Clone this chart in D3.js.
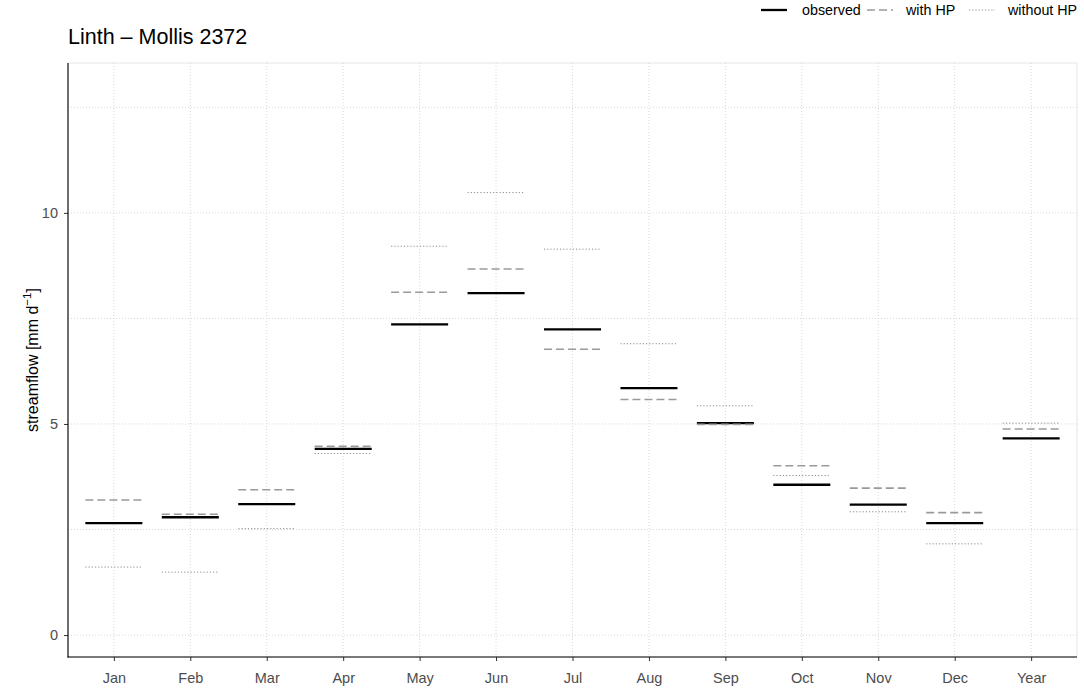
<!DOCTYPE html>
<html>
<head>
<meta charset="utf-8">
<script src="https://cdn.jsdelivr.net/npm/d3@7"></script>
<style>
  html, body { margin: 0; padding: 0; background: #fff; }
  svg { display: block; font-family: "Liberation Sans", Arial, sans-serif; }
</style>
</head>
<body>
<svg id="chart" width="1084" height="691"></svg>
<script>
// Monthly mean streamflow (mm/d): observed vs. simulated with and without hydropower
const categories = ["Jan", "Feb", "Mar", "Apr", "May", "Jun", "Jul", "Aug", "Sep", "Oct", "Nov", "Dec", "Year"];
const observed  = [2.65, 2.79, 3.10, 4.41, 7.36, 8.10, 7.24, 5.85, 5.02, 3.56, 3.09, 2.65, 4.66];
const withHP    = [3.20, 2.86, 3.44, 4.47, 8.12, 8.67, 6.77, 5.58, 4.99, 4.01, 3.48, 2.90, 4.88];
const withoutHP = [1.61, 1.49, 2.52, 4.30, 9.21, 10.48, 9.14, 6.90, 5.43, 3.78, 2.92, 2.16, 5.02];
const yTicks = [0, 5, 10];
const yMinor = [2.5, 7.5, 12.5];
const seriesNames = ["observed", "with HP", "without HP"];

const svg = d3.select("#chart");
const panel = { left: 68, right: 1077, top: 63, bottom: 657 };

const x = d3.scalePoint().domain(categories).range([panel.left, panel.right]).padding(0.6);
const y = d3.scaleLinear().domain([-0.52, 13.55]).range([panel.bottom, panel.top]);
const halfW = x.step() * 0.373;

const styles = {
  "observed":   { stroke: "#000000", width: 2.3, dash: null },
  "with HP":    { stroke: "#9a9a9a", width: 1.6, dash: "8,4" },
  "without HP": { stroke: "#8c8c8c", width: 1.0, dash: "1.2,2" }
};

// panel background + light border
svg.append("rect")
  .attr("x", panel.left).attr("y", panel.top)
  .attr("width", panel.right - panel.left).attr("height", panel.bottom - panel.top)
  .attr("fill", "#fff").attr("stroke", "#e6e6e6").attr("stroke-width", 1);

// grid
const grid = svg.append("g").attr("stroke", "#d4d4d4").attr("stroke-width", 0.9).attr("stroke-dasharray", "1,2");
grid.selectAll(".gy").data(yTicks.concat(yMinor)).join("line")
  .attr("x1", panel.left).attr("x2", panel.right)
  .attr("y1", d => y(d)).attr("y2", d => y(d));
grid.selectAll(".gx").data(categories).join("line")
  .attr("y1", panel.top).attr("y2", panel.bottom)
  .attr("x1", d => x(d)).attr("x2", d => x(d));

// axes
const yAxis = svg.append("g")
  .attr("transform", `translate(${panel.left},0)`)
  .call(d3.axisLeft(y).tickValues(yTicks).tickSize(4).tickPadding(6));
const xAxis = svg.append("g")
  .attr("transform", `translate(0,${panel.bottom})`)
  .call(d3.axisBottom(x).tickSize(4).tickPadding(12));
[yAxis, xAxis].forEach(g => {
  g.select(".domain").remove();
  g.selectAll(".tick line").attr("stroke", "#333");
  g.selectAll(".tick text").attr("fill", "#4d4d4d")
    .style("font-size", "14.5px").style("font-family", "'Liberation Sans', Arial, sans-serif");
});
svg.append("line").attr("x1", panel.left).attr("x2", panel.left)
  .attr("y1", panel.top).attr("y2", panel.bottom + 0.5).attr("stroke", "#000").attr("stroke-width", 1.1);
svg.append("line").attr("x1", panel.left - 0.5).attr("x2", panel.right)
  .attr("y1", panel.bottom).attr("y2", panel.bottom).attr("stroke", "#000").attr("stroke-width", 1.1);

// segments per series
const data = { "observed": observed, "with HP": withHP, "without HP": withoutHP };
seriesNames.forEach(name => {
  const s = styles[name];
  svg.append("g").selectAll("line").data(categories.map((c, i) => ({ c, v: data[name][i] })))
    .join("line")
    .attr("x1", d => x(d.c) - halfW).attr("x2", d => x(d.c) + halfW)
    .attr("y1", d => y(d.v)).attr("y2", d => y(d.v))
    .attr("stroke", s.stroke).attr("stroke-width", s.width)
    .attr("stroke-dasharray", s.dash);
});

// title
svg.append("text").attr("x", 68).attr("y", 44)
  .style("font-size", "21.5px").attr("fill", "#000").text("Linth – Mollis 2372");

// y-axis title with superscript
const yt = svg.append("text")
  .attr("transform", `translate(38,${(panel.top + panel.bottom) / 2}) rotate(-90)`)
  .attr("text-anchor", "middle").style("font-size", "16px").attr("fill", "#000");
yt.append("tspan").text("streamflow [mm d");
yt.append("tspan").attr("dy", -7).style("font-size", "11.5px").text("−1");
yt.append("tspan").attr("dy", 7).text("]");

// legend
const legendItems = [
  { name: "observed",   keyX: 761, textX: 802 },
  { name: "with HP",    keyX: 867, textX: 906 },
  { name: "without HP", keyX: 969, textX: 1008 }
];
const lg = svg.append("g");
legendItems.forEach(it => {
  const s = styles[it.name];
  lg.append("line").attr("x1", it.keyX).attr("x2", it.keyX + 26)
    .attr("y1", 10).attr("y2", 10)
    .attr("stroke", s.stroke).attr("stroke-width", s.width).attr("stroke-dasharray", s.dash);
  lg.append("text").attr("x", it.textX).attr("y", 15)
    .style("font-size", "14.3px").attr("fill", "#000").text(it.name);
});
</script>
</body>
</html>
